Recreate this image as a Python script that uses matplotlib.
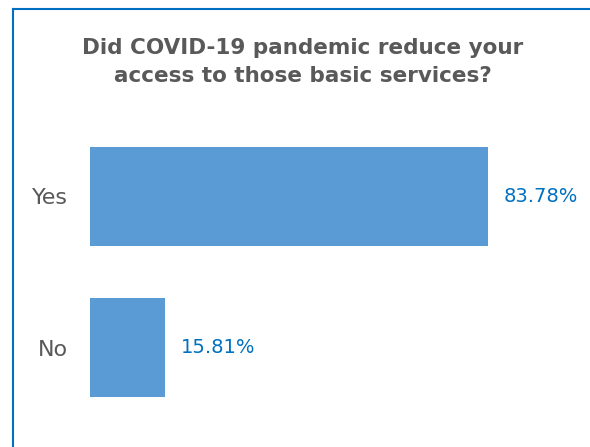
import matplotlib.pyplot as plt
from matplotlib.lines import Line2D

categories = ['No', 'Yes']
values = [15.81, 83.78]
title = "Did COVID-19 pandemic reduce your\naccess to those basic services?"

W, H = 590, 447
fig = plt.figure(figsize=(W / 100, H / 100), dpi=100)

# axes area in pixels: left 90, right 590, y from 121 to 423
ax = fig.add_axes([90 / W, 1 - 423 / H, 500 / W, 302 / H])
ax.barh(range(len(categories)), values, height=0.66, color='#5B9BD5')
ax.set_xlim(0, 500 / 4.75)
ax.set_ylim(-0.5, 1.5)
ax.set_yticks(range(len(categories)))
ax.set_yticklabels(categories, fontsize=16, color='#595959')
ax.tick_params(axis='y', length=0, pad=16)
ax.set_xticks([])
for s in ax.spines.values():
    s.set_visible(False)

for i, v in enumerate(values):
    ax.annotate(f"{v:.2f}%", (v, i), xytext=(11, 0), textcoords='offset points',
                va='center', ha='left', fontsize=14, color='#0070C0')

fig.text(303 / W, 1 - 62 / H, title, ha='center', va='center', fontsize=15.5,
         fontweight='bold', color='#595959', linespacing=1.5)

# chart frame (left and top edges visible)
fig.add_artist(Line2D([13 / W, 13 / W], [0, 1 - 9 / H], transform=fig.transFigure,
                      color='#0070C0', lw=1.5))
fig.add_artist(Line2D([13 / W, 1], [1 - 9 / H, 1 - 9 / H], transform=fig.transFigure,
                      color='#0070C0', lw=1.5))

fig.savefig('out.png', dpi=100)
